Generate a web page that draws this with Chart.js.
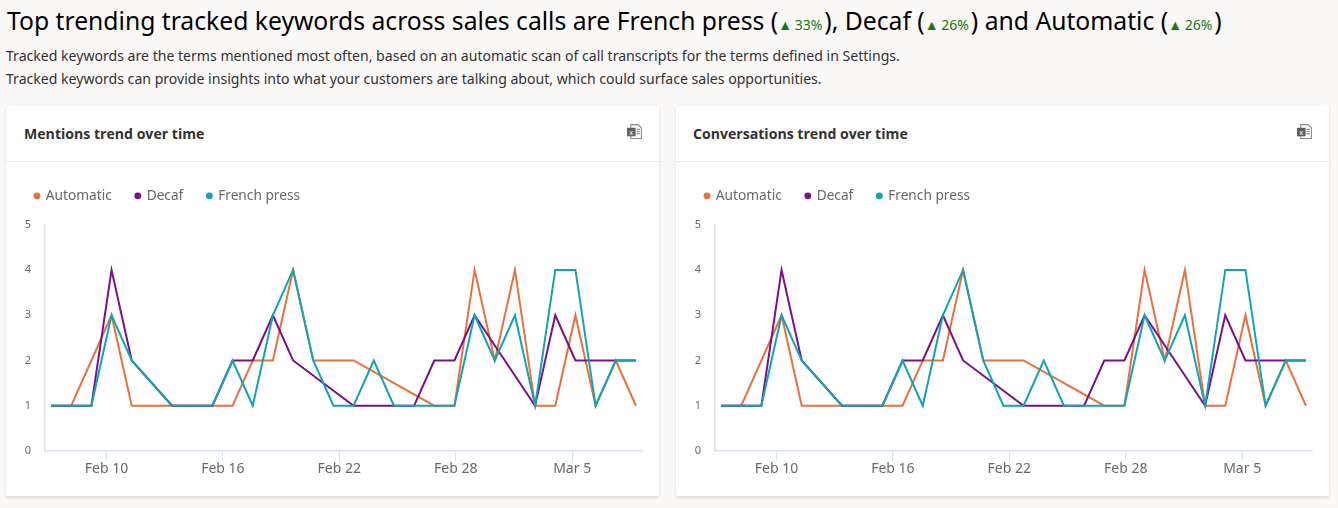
<!DOCTYPE html>
<html>
<head>
<meta charset="utf-8">
<title>Tracked keywords</title>
<script src="https://cdn.jsdelivr.net/npm/chart.js@4"></script>
<style>
  html, body { margin: 0; padding: 0; }
  body { width: 1338px; height: 508px; background: #faf9f8; overflow: hidden; position: relative; font-family: "Open Sans", sans-serif; color: #201f1e; }
  h1 { position: absolute; left: 7px; top: 3px; margin: 0; font-size: 24.7px; line-height: 36px; font-weight: 400; color: #000; white-space: nowrap; font-family: "Noto Sans", sans-serif; }
  h1 .delta { font-size: 14px; color: #107c10; margin-right: 2px; }
  h1 .delta i { font-style: normal; font-size: 14px; margin-right: -1px; }
  .sub { position: absolute; left: 6px; font-size: 14.08px; line-height: 22px; white-space: nowrap; color: #323130; font-family: "Noto Sans", sans-serif; }
  .card { position: absolute; top: 106px; width: 653px; height: 390px; background: #fff; box-shadow: 0 1.6px 3.6px rgba(0,0,0,.13); border-radius: 2px; }
  .head { height: 55px; border-bottom: 1px solid #edebe9; }
  .head b { position: absolute; left: 18px; top: 18px; font-size: 14.1px; line-height: 20px; font-weight: 700; color: #323130; }
  .head svg { position: absolute; right: 16px; top: 17px; }
  .plot { position: absolute; left: 0; top: 56px; width: 653px; height: 334px; }
</style>
</head>
<body>
<h1>Top trending tracked keywords across sales calls are French press (<span class="delta"><i>▲</i> 33%</span>), Decaf (<span class="delta"><i>▲</i> 26%</span>) and Automatic (<span class="delta"><i>▲</i> 26%</span>)</h1>
<div class="sub" style="top:45px">Tracked keywords are the terms mentioned most often, based on an automatic scan of call transcripts for the terms defined in Settings.</div>
<div class="sub" style="top:68px">Tracked keywords can provide insights into what your customers are talking about, which could surface sales opportunities.</div>

<div class="card" style="left:6px">
  <div class="head"><b>Mentions trend over time</b>
    <svg width="17" height="17" viewBox="0 0 16 16"><path d="M4.5 1.5h7l3 3v10h-10z" fill="#fff" stroke="#8a8886"/><path d="M10 8h3M10 10h3M10 6h3" stroke="#8a8886"/><rect x="1" y="4.5" width="8" height="8" fill="#605e5c"/><text x="5" y="11" font-size="7" fill="#fff" text-anchor="middle">x</text></svg>
  </div>
  <div class="plot"><canvas id="mentions-chart"></canvas></div>
</div>
<div class="card" style="left:676px">
  <div class="head"><b style="left:17px">Conversations trend over time</b>
    <svg width="17" height="17" viewBox="0 0 16 16"><path d="M4.5 1.5h7l3 3v10h-10z" fill="#fff" stroke="#8a8886"/><path d="M10 8h3M10 10h3M10 6h3" stroke="#8a8886"/><rect x="1" y="4.5" width="8" height="8" fill="#605e5c"/><text x="5" y="11" font-size="7" fill="#fff" text-anchor="middle">x</text></svg>
  </div>
  <div class="plot"><canvas id="conversations-chart"></canvas></div>
</div>

<script>
// Values, null = no point that day (line carries straight across)
var days = ["Feb 7","Feb 8","Feb 9","Feb 10","Feb 11","Feb 12","Feb 13","Feb 14","Feb 15","Feb 16",
  "Feb 17","Feb 18","Feb 19","Feb 20","Feb 21","Feb 22","Feb 23","Feb 24","Feb 25","Feb 26",
  "Feb 27","Feb 28","Feb 29","Mar 1","Mar 2","Mar 3","Mar 4","Mar 5","Mar 6","Mar 7"];
var tickLabels = ["Feb 10", "Feb 16", "Feb 22", "Feb 28", "Mar 5"];

var mentionsAutomatic = [1,1,2,3,1,1,1,1,1,1,2,2,4,2,2,2,null,null,null,1,1,4,2,4,1,1,3,1,2,1];
var mentionsDecaf = [1,1,1,4,2,null,1,1,1,2,2,3,2,null,null,1,1,1,1,2,2,3,null,null,1,3,2,2,2,2];
var mentionsFrench = [1,1,1,3,2,null,1,1,1,2,1,3,4,2,1,1,2,1,1,1,1,3,2,3,1,4,4,1,2,2];

var conversationsAutomatic = [1,1,2,3,1,1,1,1,1,1,2,2,4,2,2,2,null,null,null,1,1,4,2,4,1,1,3,1,2,1];
var conversationsDecaf = [1,1,1,4,2,null,1,1,1,2,2,3,2,null,null,1,1,1,1,2,2,3,null,null,1,3,2,2,2,2];
var conversationsFrench = [1,1,1,3,2,null,1,1,1,2,1,3,4,2,1,1,2,1,1,1,1,3,2,3,1,4,4,1,2,2];

var ORANGE = "#e9713c", PURPLE = "#7a1189", TEAL = "#12a3b6";
var AXIS = "#d8e2f3", TEXT = "#69676a";

// Extra room between the legend and the plot
var legendGap = {
  id: "legendGap",
  beforeInit: function (chart) {
    var fit = chart.legend.fit;
    chart.legend.fit = function () {
      fit.call(this);
      this.height += 12;
    };
  }
};

// Chart Initialization Function
function createChart(canvasId, automatic, decaf, french) {
  function series(label, color, values, order) {
    return {
      label: label,
      data: values.map(function (v, i) { return { x: i, y: v }; }),
      borderColor: color,
      backgroundColor: color,
      borderWidth: 2,
      pointRadius: 0,
      tension: 0,
      spanGaps: true,
      order: order
    };
  }
  new Chart(document.getElementById(canvasId), {
    type: "line",
    plugins: [legendGap],
    data: {
      datasets: [
        series("Automatic", ORANGE, automatic, 3),
        series("Decaf", PURPLE, decaf, 2),
        series("French press", TEAL, french, 1)
      ]
    },
    options: {
      responsive: true,
      maintainAspectRatio: false,
      animation: false,
      layout: { padding: { top: 3, right: 17, left: 5, bottom: 0 } },
      plugins: {
        tooltip: { enabled: false },
        legend: {
          position: "top",
          align: "start",
          labels: {
            usePointStyle: true,
            pointStyle: "circle",
            boxWidth: 4,
            boxHeight: 3.5,
            padding: 24,
            color: TEXT,
            font: { family: "Noto Sans", size: 13.7 },
            sort: function (a, b) { return a.text < b.text ? -1 : 1; }
          }
        }
      },
      scales: {
        // points sit on a day index scale, the date ticks have their own slightly different spacing
        x: { type: "linear", display: false, min: -0.3, max: days.length - 0.7 },
        xDates: {
          type: "linear",
          position: "bottom",
          min: -0.528,
          max: 4.6,
          afterBuildTicks: function (axis) {
            axis.ticks = tickLabels.map(function (t, i) { return { value: i }; });
          },
          afterFit: function (axis) { axis.height = 45; },
          grid: { drawOnChartArea: false, drawTicks: true, tickLength: 10, color: AXIS },
          border: { color: AXIS, width: 1.5 },
          ticks: {
            autoSkip: false,
            maxRotation: 0,
            padding: 0,
            color: TEXT,
            font: { family: "Noto Sans", size: 14 },
            callback: function (value) { return tickLabels[value]; }
          }
        },
        y: {
          min: 0,
          max: 5,
          afterFit: function (axis) { axis.width = 34; },
          grid: { display: true, drawOnChartArea: false, drawTicks: false, color: AXIS },
          border: { color: AXIS, width: 1.5 },
          ticks: {
            stepSize: 1,
            padding: 14,
            color: TEXT,
            font: { family: "Noto Sans", size: 11 }
          }
        }
      }
    }
  });
}

createChart("mentions-chart", mentionsAutomatic, mentionsDecaf, mentionsFrench);
createChart("conversations-chart", conversationsAutomatic, conversationsDecaf, conversationsFrench);
</script>
</body>
</html>
